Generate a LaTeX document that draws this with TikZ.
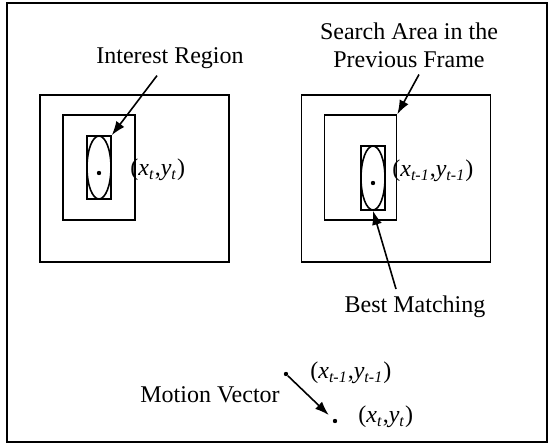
\documentclass[tikz,border=0pt]{standalone}
\usepackage{fontspec}
\setmainfont{Liberation Serif}
\usetikzlibrary{arrows.meta,shapes.geometric}
\tikzset{
	lbl/.style={font=\fontsize{12}{14}\selectfont},
	box/.style={draw, line width=0.8pt, inner sep=0pt},
	blob/.style={draw, ellipse, line width=0.8pt, inner sep=0pt},
	pt/.style={circle, fill, inner sep=0pt, minimum size=2.2pt},
	pointer/.style={-{Latex[length=7pt,width=5pt]}, line width=0.8pt},
}
% position label (x_i, y_i) with italic subscripts
\newcommand{\xypos}[1]{(\textit{x}\textsubscript{\textit{#1}},\textit{y}\textsubscript{\textit{#1}})}
\begin{document}
\begin{tikzpicture}[x=0.5pt, y=-0.5pt]
	\useasboundingbox (0,0) rectangle (548,445);
	\draw[line width=1pt] (7,3) rectangle (547,442);
	% current frame
	\node[box, minimum width=94.5pt, minimum height=83.5pt] (outerL) at (134.5,178.5) {};
	\node[box, minimum width=36pt, minimum height=52.5pt] (midL) at (99,167.5) {};
	\node[box, minimum width=12pt, minimum height=31.5pt] (roiL) at (99,167.5) {};
	\node[blob, minimum width=12pt, minimum height=31.5pt] (ellL) at (roiL) {};
	\node[pt] (cL) at (99,173) {};
	\node[lbl, anchor=west, inner sep=0pt] (posL) at (130,170) {\xypos{t}};
	\node[lbl] (interest) at (170,58) {Interest Region};
	\draw[pointer] ([xshift=-6.5pt]interest.south) -- (roiL.north east);
	% previous frame
	\node[box, minimum width=94.5pt, minimum height=83.5pt] (outerR) at (396,178.5) {};
	\node[box, minimum width=36pt, minimum height=52.5pt] (midR) at (360.5,167.5) {};
	\node[box, minimum width=12pt, minimum height=32pt] (roiR) at (373,178) {};
	\node[blob, minimum width=12pt, minimum height=32pt] (ellR) at (roiR) {};
	\node[pt] (cR) at (373,183) {};
	\node[lbl, anchor=west, inner sep=0pt] (posR) at (392,171) {\xypos{t-1}};
	\node[lbl, align=center] (search) at (409,45) {Search Area in the\\Previous Frame};
	\draw[pointer] ([xshift=5pt]search.south) -- (midR.north east);
	\node[lbl] (best) at (415,307) {Best Matching};
	\draw[pointer] ([xshift=-9.5pt]best.north) -- (ellR.south);
	% motion vector
	\node[pt] (from) at (286,374) {};
	\node[pt] (to) at (335,421) {};
	\node[lbl, anchor=west, inner sep=0pt] (posA) at (310,373) {\xypos{t-1}};
	\node[lbl, anchor=west, inner sep=0pt] (posB) at (358,417) {\xypos{t}};
	\node[lbl] (motion) at (210,395) {Motion Vector};
	\draw[pointer, shorten >=3pt] (from) -- (to);
\end{tikzpicture}
\end{document}
